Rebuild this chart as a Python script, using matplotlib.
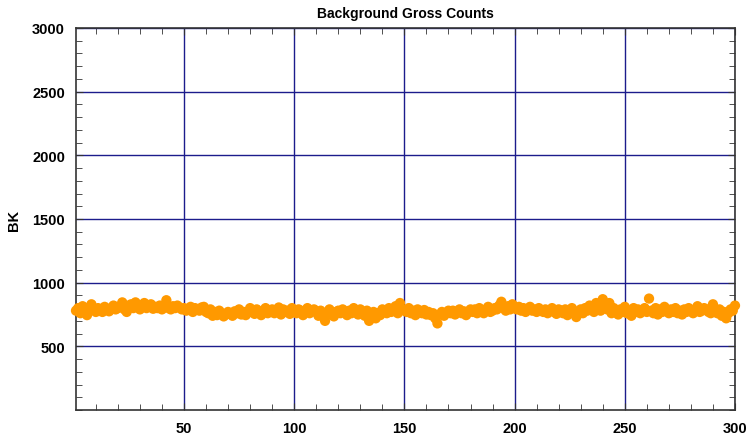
import numpy as np
import matplotlib
matplotlib.use("Agg")
import matplotlib.pyplot as plt
from matplotlib.ticker import MultipleLocator

plt.rcParams['font.family'] = ['Liberation Sans', 'DejaVu Sans']

# background gross counts per frame
frames = np.arange(1, 301)
bk = [
    780, 800, 760, 815, 790, 745, 805, 830, 790, 770,
    800, 785, 770, 810, 790, 775, 800, 820, 790, 800,
    815, 845, 790, 770, 820, 830, 800, 845, 810, 790,
    820, 840, 800, 815, 830, 795, 810, 800, 820, 790,
    810, 862, 800, 790, 815, 800, 820, 805, 790, 800,
    780, 795, 810, 770, 800, 790, 780, 805, 810, 770,
    760, 790, 740, 770, 745, 780, 760, 735, 750, 770,
    755, 740, 775, 760, 790, 750, 770, 745, 765, 800,
    780, 755, 790, 770, 745, 780, 800, 760, 775, 790,
    760, 780, 805, 750, 790, 770, 780, 755, 800, 775,
    760, 790, 780, 745, 770, 800, 760, 775, 790, 770,
    740, 780, 755, 700, 765, 790, 750, 735, 770, 780,
    760, 790, 770, 745, 780, 760, 800, 770, 750, 790,
    760, 740, 780, 700, 755, 770, 720, 760, 745, 790,
    780, 760, 800, 770, 790, 815, 760, 840, 790, 780,
    770, 800, 760, 780, 745, 790, 770, 760, 785, 750,
    770, 745, 760, 720, 680, 750, 770, 740, 760, 780,
    760, 780, 750, 770, 790, 760, 775, 745, 770, 790,
    770, 790, 760, 800, 775, 760, 790, 810, 770, 780,
    800, 790, 820, 850, 800, 780, 815, 790, 830, 800,
    790, 810, 780, 800, 770, 795, 810, 780, 790, 770,
    800, 785, 770, 790, 760, 780, 800, 770, 755, 790,
    780, 760, 790, 745, 770, 800, 760, 730, 775, 790,
    760, 800, 780, 820, 790, 770, 840, 810, 780, 870,
    820, 790, 840, 760, 800, 780, 750, 790, 770, 810,
    760, 780, 740, 800, 770, 790, 760, 780, 800, 770,
    875, 780, 760, 800, 750, 790, 770, 810, 780, 760,
    790, 770, 800, 760, 780, 750, 790, 770, 800, 780,
    760, 790, 815, 770, 780, 800, 790, 770, 760, 830,
    780, 760, 790, 740, 770, 720, 760, 790, 780, 820,
]
xticks = [50, 100, 150, 200, 250, 300]
yticks = [500, 1000, 1500, 2000, 2500, 3000]

fig = plt.figure(figsize=(7.48, 4.39), dpi=100)
ax = fig.add_axes([0.1016, 0.0638, 0.8810, 0.8702])

ax.scatter(frames, bk, s=55, color='#FF9900', edgecolors='none', zorder=3, clip_on=False)

ax.set_xlim(1, 300)
ax.set_ylim(0, 3000)
ax.set_xticks(xticks)
ax.set_yticks(yticks)
ax.xaxis.set_minor_locator(MultipleLocator(10))
ax.yaxis.set_minor_locator(MultipleLocator(100))
ax.grid(True, which='major', color='#1c1c8c', linewidth=1.0)
ax.tick_params(which='both', direction='in', top=True, right=True,
               labelsize=10.5, color='#333333')
ax.tick_params(which='major', length=5)
ax.tick_params(which='minor', length=4)
for lbl in ax.get_xticklabels() + ax.get_yticklabels():
    lbl.set_fontweight('bold')
ax.tick_params(axis='x', pad=8)
ax.tick_params(axis='y', pad=8)
for sp in ax.spines.values():
    sp.set_color('#333333')
    sp.set_linewidth(1.2)

ax.set_title('Background Gross Counts', fontsize=10, fontweight='bold', pad=8)
ax.set_ylabel('BK', fontsize=10.5, fontweight='bold', labelpad=8)

fig.savefig('out.png', dpi=100)
